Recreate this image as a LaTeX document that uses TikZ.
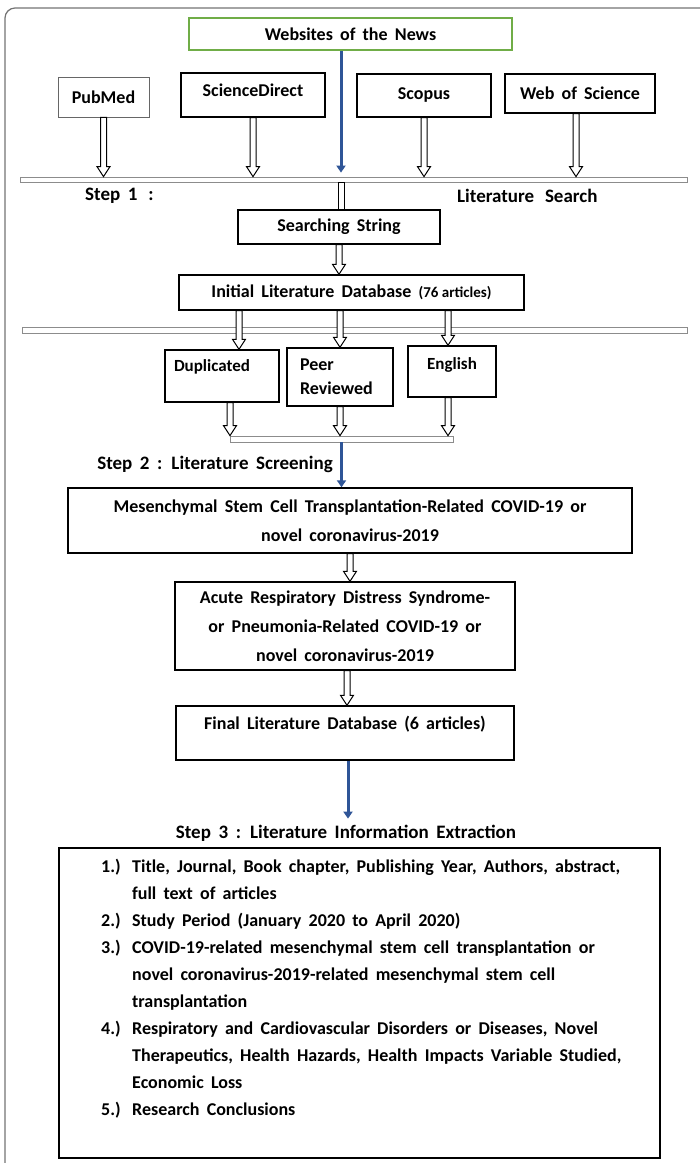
\documentclass[tikz,border=0pt]{standalone}
\usepackage{fontspec}
\setmainfont{Carlito}
\usetikzlibrary{arrows.meta,calc,positioning}
\definecolor{newsgreen}{RGB}{112,173,71}
\definecolor{arrowblue}{RGB}{47,85,151}
\newcommand\boxfont{\bfseries\fontsize{18}{29}\selectfont\spaceskip=0.4em\relax}
\newcommand\smallboxfont{\bfseries\fontsize{17}{24}\selectfont}
\newcommand\stepfont{\bfseries\fontsize{19}{24}\selectfont\spaceskip=0.4em\relax}
\tikzset{box style/.style={
		draw=black,
		line width=1.4pt,
		fill=white,
		align=center,
		inner sep=2pt,
		font=\boxfont,
	},
	news style/.style={
		box style,
		draw=newsgreen,
		line width=1.5pt,
	},
	bar style/.style={
		draw=black!45,
		line width=0.8pt,
		fill=white,
		inner sep=0pt,
	},
	label style/.style={
		font=\stepfont,
		inner sep=0pt,
	},
	blue arrow/.style={
		draw=arrowblue,
		line width=3pt,
		-{Triangle[length=7pt,width=9pt]},
	},
	hollow arrow/.style={
		draw=black,
		line width=1pt,
		fill=white,
		to path={let \p1=(\tikztostart), \p2=(\tikztotarget) in
			(\x1-3pt,\y1) -- (\x1-3pt,\y2+10pt) -- (\x1-6.5pt,\y2+10pt) -- (\x1,\y2)
			-- (\x1+6.5pt,\y2+10pt) -- (\x1+3pt,\y2+10pt) -- (\x1+3pt,\y1) -- cycle}
	},
	hollow shaft/.style={
		draw=black,
		line width=1pt,
		fill=white,
		to path={let \p1=(\tikztostart), \p2=(\tikztotarget) in
			(\x1-3pt,\y1) rectangle (\x1+3pt,\y2)}
	}
}

\begin{document}
\begin{tikzpicture}[x=1pt,y=-1pt]
	\useasboundingbox (0,0) rectangle (700,1163);
	\clip (0,0) rectangle (700,1163);
	% outer frame
	\draw[black!55, line width=1.2pt, rounded corners=10pt] (5,8) rectangle (720,1190);
	
	% Step 1
	\node[news style, minimum width=323pt, minimum height=32pt] (news) at (350.5,34) {Websites of the News};
	\node[box style, draw=black!60, line width=0.8pt, minimum width=91pt, minimum height=40pt] (pubmed) at (103.5,97) {PubMed};
	\node[box style, minimum width=144pt, minimum height=44pt, text depth=9pt] (scidir) at (253,95) {ScienceDirect};
	\node[box style, minimum width=134pt, minimum height=43pt] (scopus) at (424,95.5) {Scopus};
	\node[box style, minimum width=150pt, minimum height=39pt] (wos) at (580,93.5) {Web of Science};
	
	\node[bar style, minimum width=667pt, minimum height=5pt] (bar1) at (353.5,179.5) {};
	\node[label style, anchor=west] (step1) at (85,196) {Step 1 \,:};
	\node[label style, anchor=west] (search title) at (457,196) {Literature \,Search};
	
	\node[box style, minimum width=202pt, minimum height=34pt] (string) at (339,227) {Searching String};
	\node[box style, minimum width=345pt, minimum height=35pt] (initial) at (351.5,292.5) {Initial Literature Database {\fontsize{15}{18}\selectfont\spaceskip=0pt(76 articles)}};
	
	% Step 2
	\node[bar style, minimum width=665pt, minimum height=6pt] (bar2) at (354.5,330) {};
	\node[box style, align=left, minimum width=114pt, minimum height=52pt, text width=96pt, text depth=20pt, font=\smallboxfont] (dup) at (222,376) {Duplicated};
	\node[box style, align=left, minimum width=106pt, minimum height=58pt, text width=80pt, font=\bfseries\fontsize{18}{24}\selectfont] (peer) at (340,377) {Peer\\Reviewed};
	\node[box style, minimum width=88pt, minimum height=51pt, text depth=16pt, font=\smallboxfont] (english) at (452,371.5) {English};
	\node[bar style, minimum width=223pt, minimum height=6pt] (bar3) at (341.5,439) {};
	\node[label style, anchor=east] (step2) at (333,464) {Step 2 : Literature Screening};
	
	\node[box style, minimum width=564pt, minimum height=65pt] (msc) at (350,520.5) {Mesenchymal Stem Cell Transplantation-Related COVID-19 or\\novel coronavirus-2019};
	\node[box style, minimum width=340pt, minimum height=88pt] (ards) at (345,626) {Acute Respiratory Distress Syndrome-\\or Pneumonia-Related COVID-19 or\\novel coronavirus-2019};
	\node[box style, minimum width=338pt, minimum height=54pt, text depth=20pt] (final) at (345,733) {Final Literature Database (6 articles)};
	
	% Step 3
	\node[label style] (step3) at (346,833) {Step 3 : Literature Information Extraction};
	\node[box style, minimum width=601pt, minimum height=310pt] (info) at (359.5,1003) {};
	\node[label style, anchor=north west, font=\boxfont\fontsize{18}{27}\selectfont] (items) at (101,853) {%
		\begin{tabular}{@{}p{31pt}@{}l@{}}
			1.) & Title, Journal, Book chapter, Publishing Year, Authors, abstract,\\
			& full text of articles\\
			2.) & Study Period (January 2020 to April 2020)\\
			3.) & COVID-19-related mesenchymal stem cell transplantation or\\
			& novel coronavirus-2019-related mesenchymal stem cell\\
			& transplantation\\
			4.) & Respiratory and Cardiovascular Disorders or Diseases, Novel\\
			& Therapeutics, Health Hazards, Health Impacts Variable Studied,\\
			& Economic Loss\\
			5.) & Research Conclusions
	\end{tabular}};
	
	% connector points
	\coordinate (news out) at ([xshift=-9.5pt]news.south);
	\coordinate (wos out) at ([xshift=-4pt]wos.south);
	\coordinate (dup in) at ([xshift=17pt]dup.north);
	\coordinate (eng in) at ([xshift=-4pt]english.north);
	\coordinate (dup out) at ([xshift=8pt]dup.south);
	\coordinate (eng out) at ([xshift=-4pt]english.south);
	\coordinate (final out) at ([xshift=3pt]final.south);
	
	% arrows
	\draw[blue arrow, shorten >=4pt] (news out) -- (news out |- bar1.north);
	\draw[hollow arrow] (pubmed.south) to (pubmed.south |- bar1.north);
	\draw[hollow arrow] (scidir.south) to (scidir.south |- bar1.north);
	\draw[hollow arrow] (scopus.south) to (scopus.south |- bar1.north);
	\draw[hollow arrow] (wos out) to (wos out |- bar1.north);
	\draw[hollow shaft] ([xshift=2pt]bar1.south -| string.north) to ([xshift=2pt]string.north);
	\draw[hollow arrow] (string.south) to (string.south |- initial.north);
	\draw[hollow arrow] (dup in |- initial.south) to (dup in);
	\draw[hollow arrow] (peer.north |- initial.south) to (peer.north);
	\draw[hollow arrow] (eng in |- initial.south) to (eng in);
	\draw[hollow arrow] (dup out) to (dup out |- bar3.north);
	\draw[hollow arrow] (peer.south) to (peer.south |- bar3.north);
	\draw[hollow arrow] (eng out) to (eng out |- bar3.north);
	\draw[blue arrow] (bar3.south) -- (bar3.south |- msc.north);
	\draw[hollow arrow] (msc.south) to (msc.south |- ards.north);
	\draw[hollow arrow] ([xshift=2pt]ards.south) to ([xshift=2pt]final.north);
	\draw[blue arrow, shorten >=6pt] (final out) -- (final out |- step3.north);
\end{tikzpicture}
\end{document}
